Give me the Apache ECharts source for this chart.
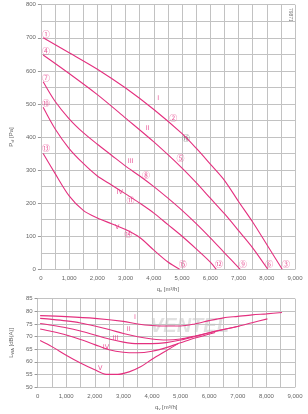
<!DOCTYPE html>
<html>
<head>
<meta charset="utf-8">
<script src="https://cdn.jsdelivr.net/npm/echarts@6/dist/echarts.min.js"></script>
<style>
  html, body { margin: 0; padding: 0; background: #fff; }
  #chart { width: 308px; height: 414px; }
</style>
</head>
<body>
<div id="chart"></div>
<script>
// pressure curves P_sf [Pa] over q_v [m3/h]
const pressI = [[80, 700], [1000, 655], [2000, 605], [3000, 548], [4000, 483], [5000, 410], [5500, 366], [6000, 318], [6500, 269], [7000, 205], [7500, 143], [8000, 75], [8547, 0]];
const pressII = [[80, 648], [1000, 592], [2000, 528], [3000, 457], [4000, 385], [5000, 306], [5500, 262], [6000, 215], [6500, 168], [7000, 117], [7500, 65], [8036, 0]];
const pressIII = [[80, 567], [500, 508], [1000, 455], [1500, 413], [2000, 378], [2500, 345], [3000, 312], [3500, 282], [4000, 250], [4500, 215], [5000, 178], [5500, 138], [6000, 95], [6500, 50], [7060, 0]];
const pressIV = [[80, 490], [500, 425], [1000, 365], [1500, 320], [2000, 282], [2500, 255], [3000, 228], [3500, 200], [4000, 170], [4500, 135], [5000, 100], [5500, 62], [6000, 22], [6210, 0]];
const pressV = [[80, 350], [500, 290], [1000, 222], [1500, 178], [2000, 155], [2500, 138], [3000, 120], [3500, 96], [4000, 58], [4500, 22], [4913, 0]];

// sound power L_WA [dB(A)] over q_v
const noiseI = [[90, 78.3], [1000, 77.9], [2000, 77.2], [3000, 76.0], [3500, 75.0], [4000, 74.4], [4500, 74.2], [5000, 74.2], [5500, 75.0], [6000, 76.3], [6500, 77.4], [7000, 78.0], [7500, 78.6], [8000, 79.0], [8547, 79.5]];
const noiseII = [[90, 77.2], [500, 76.8], [1000, 76.2], [1500, 75.4], [2000, 74.2], [2500, 72.8], [3000, 71.2], [3500, 69.9], [4000, 69.0], [4500, 68.6], [5000, 69.0], [5500, 70.2], [6000, 71.5], [6500, 72.8], [7000, 74.0], [7500, 75.5], [8036, 77.0]];
const noiseIII = [[90, 75.2], [500, 74.5], [1000, 73.5], [1500, 72.2], [2000, 70.6], [2500, 69.0], [3000, 67.8], [3500, 67.2], [4000, 67.2], [4500, 67.6], [5000, 68.6], [5500, 70.0], [6000, 71.5], [6500, 72.8], [7060, 74.2]];
const noiseIV = [[90, 73.0], [500, 72.0], [1000, 70.6], [1500, 68.8], [2000, 66.8], [2500, 64.8], [3000, 63.8], [3500, 63.6], [4000, 64.2], [4500, 65.6], [5000, 67.5], [5500, 69.4], [6000, 71.0], [6210, 71.6]];
const noiseV = [[90, 68.4], [500, 66.0], [1000, 62.6], [1500, 59.5], [2000, 56.8], [2400, 55.0], [2800, 55.0], [3200, 56.0], [3600, 58.0], [4000, 61.0], [4500, 64.4], [4913, 67.2]];

const curveNames = ["I", "II", "III", "IV", "V"];
const pressLabelPos = [[4154, 518], [3779, 425], [3177, 326], [2792, 234], [2700, 127]];
const noiseLabelPos = [[3405, 77.5], [3187, 72.9], [2724, 69.3], [2394, 65.6], [2190, 57.4]];

// numbered operating points
const pointMarks = [
  [180, 711, "①"], [4685, 458, "②"], [8682, 16, "③"],
  [180, 660, "④"], [4947, 336, "⑤"], [8090, 16, "⑥"],
  [180, 580, "⑦"], [3721, 284, "⑧"], [7160, 16, "⑨"],
  [180, 502, "⑩"], [3177, 211, "⑪"], [6309, 16, "⑫"],
  [180, 366, "⑬"], [3098, 106, "⑭"], [5025, 16, "⑮"]
];
const greyMarks = [[5141, 398, "⑯"]];

const pink = "#e4307f";
const gridColor = "#c2c2c2";
const labelColor = "#666";

let myEchart = echarts.init(document.getElementById("chart"));

function lineSeries(data, xi) {
  return {
    type: "line",
    xAxisIndex: xi,
    yAxisIndex: xi,
    data: data,
    smooth: 0.3,
    showSymbol: false,
    lineStyle: { color: pink, width: 1.1 },
    silent: true
  };
}

function textSeries(data, xi, color, size, font) {
  return {
    type: "scatter",
    xAxisIndex: xi,
    yAxisIndex: xi,
    symbolSize: 1,
    itemStyle: { color: "rgba(0,0,0,0)" },
    data: data.map(d => ({ value: [d[0], d[1]], name: d[2] })),
    label: {
      show: true,
      position: "inside",
      formatter: p => p.name,
      color: color,
      fontSize: size,
      fontFamily: font
    },
    silent: true
  };
}

function xAxisCfg(gi) {
  return {
    type: "value",
    gridIndex: gi,
    min: 0,
    max: 9000,
    interval: 1000,
    name: "q{sub|v} [m³/h]",
    nameLocation: "middle",
    nameGap: 16,
    nameTextStyle: {
      color: labelColor, fontSize: 6, fontFamily: "Liberation Sans",
      rich: { sub: { fontSize: 4, color: labelColor, verticalAlign: "bottom", padding: [4, 0, 0, 0] } }
    },
    axisLine: { show: true, lineStyle: { color: gridColor } },
    axisTick: { show: false },
    axisLabel: {
      color: labelColor, fontSize: 6, fontFamily: "Liberation Sans", margin: 6,
      formatter: v => v.toLocaleString("en-US")
    },
    splitLine: { show: true, lineStyle: { color: gridColor, width: 1 } },
    minorTick: { show: false, splitNumber: 2 },
    minorSplitLine: { show: true, lineStyle: { color: gridColor, width: 1 } }
  };
}

let option = {
  animation: false,
  backgroundColor: "#fff",
  grid: [
    { left: 30.7, right: 13, top: 4.7, bottom: 144.7 },
    { left: 30.7, right: 13, top: 298.7, bottom: 27 }
  ],
  xAxis: [xAxisCfg(0), xAxisCfg(1)],
  yAxis: [
    {
      type: "value",
      gridIndex: 0,
      min: 0,
      max: 800,
      interval: 100,
      name: "P{sub|sf} [Pa]",
      nameLocation: "middle",
      nameRotate: 90,
      nameGap: 23,
      nameTextStyle: {
        color: labelColor, fontSize: 6, fontFamily: "Liberation Sans",
        rich: { sub: { fontSize: 4, color: labelColor, verticalAlign: "bottom", padding: [4, 0, 0, 0] } }
      },
      axisLine: { show: true, lineStyle: { color: gridColor } },
      axisTick: { show: true, length: 3, lineStyle: { color: "#999" } },
      axisLabel: { color: labelColor, fontSize: 6, fontFamily: "Liberation Sans", margin: 5 },
      splitLine: { show: true, lineStyle: { color: gridColor, width: 1 } },
      minorTick: { show: false, splitNumber: 2 },
      minorSplitLine: { show: true, lineStyle: { color: gridColor, width: 1 } }
    },
    {
      type: "value",
      gridIndex: 1,
      min: 50,
      max: 85,
      interval: 5,
      name: "L{sub|WA} [dB(A)]",
      nameLocation: "middle",
      nameRotate: 90,
      nameGap: 21,
      nameTextStyle: {
        color: labelColor, fontSize: 6, fontFamily: "Liberation Sans",
        rich: { sub: { fontSize: 4, color: labelColor, verticalAlign: "bottom", padding: [4, 0, 0, 0] } }
      },
      axisLine: { show: true, lineStyle: { color: gridColor } },
      axisTick: { show: true, length: 3, lineStyle: { color: "#999" } },
      axisLabel: { color: labelColor, fontSize: 6, fontFamily: "Liberation Sans", margin: 5 },
      splitLine: { show: true, lineStyle: { color: gridColor, width: 1 } }
    }
  ],
  graphic: [
    {
      type: "text",
      x: 293,
      y: 8,
      rotation: -Math.PI / 2,
      style: { text: "79871", fill: "#777", fontSize: 5, fontFamily: "Liberation Sans" }
    },
    {
      type: "text",
      x: 150,
      y: 316,
      z: -1,
      style: { text: "VENTEL", fill: "rgba(170,170,170,0.35)", fontSize: 20, fontWeight: "bold", fontStyle: "italic", fontFamily: "Liberation Sans" }
    }
  ],
  series: [
    lineSeries(pressI, 0),
    lineSeries(pressII, 0),
    lineSeries(pressIII, 0),
    lineSeries(pressIV, 0),
    lineSeries(pressV, 0),
    lineSeries(noiseI, 1),
    lineSeries(noiseII, 1),
    lineSeries(noiseIII, 1),
    lineSeries(noiseIV, 1),
    lineSeries(noiseV, 1),
    textSeries(pressLabelPos.map((p, i) => [p[0], p[1], curveNames[i]]), 0, pink, 6.5, "DejaVu Sans"),
    textSeries(noiseLabelPos.map((p, i) => [p[0], p[1], curveNames[i]]), 1, pink, 6.5, "DejaVu Sans"),
    textSeries(pointMarks, 0, pink, 8, "Noto Sans CJK SC"),
    textSeries(greyMarks, 0, "#555", 8, "Noto Sans CJK SC")
  ]
};

myEchart.setOption(option);
</script>
</body>
</html>
